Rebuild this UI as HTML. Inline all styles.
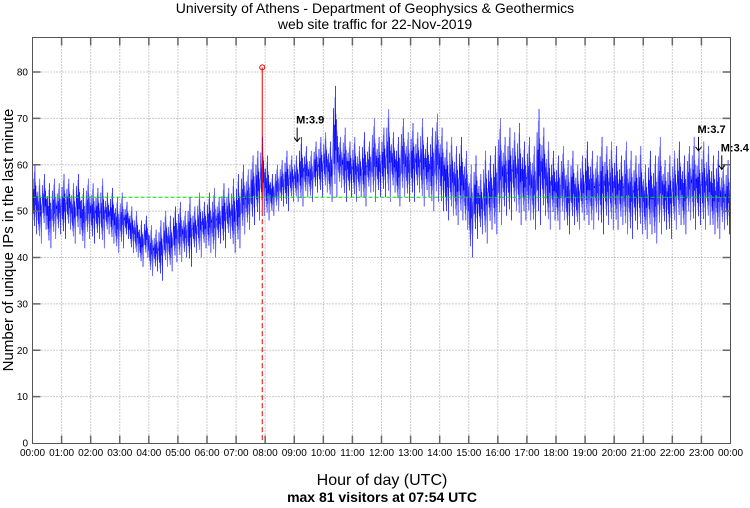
<!DOCTYPE html>
<html><head><meta charset="utf-8"><style>
html,body{margin:0;padding:0;background:#fff;}
svg{display:block;font-family:"Liberation Sans",sans-serif;}
</style></head><body>
<svg id="chart" width="750" height="508" viewBox="0 0 750 508">
<text x="375" y="13" text-anchor="middle" font-size="14">University of Athens - Department of Geophysics &amp; Geothermics</text>
<text x="375" y="29" text-anchor="middle" font-size="14">web site traffic for 22-Nov-2019</text>
<text transform="translate(13,240) rotate(-90)" text-anchor="middle" font-size="15">Number of unique IPs in the last minute</text>
<text x="382" y="485" text-anchor="middle" font-size="16">Hour of day (UTC)</text>
<text x="382" y="502" text-anchor="middle" font-size="14" font-weight="bold">max 81 visitors at 07:54 UTC</text>
<g id="grid"></g><g id="series"></g><g id="overlay"></g><g id="axes"></g>
</svg>
<script>
const hourLabels=["00:00","01:00","02:00","03:00","04:00","05:00","06:00","07:00","08:00","09:00","10:00","11:00","12:00","13:00","14:00","15:00","16:00","17:00","18:00","19:00","20:00","21:00","22:00","23:00","00:00"];
const yTicks=[0,10,20,30,40,50,60,70,80];
const binLo=[45,43,46,42,44,45, 44,46,43,45,42,44, 43,44,42,45,43,41, 42,44,41,40,38,40, 36,37,35,38,37,39, 39,40,38,41,40,42, 41,40,43,42,44,41, 42,45,46,47,48,49, 48,49,50,51,50,52, 52,51,53,52,54,53, 54,52,53,55,52,53, 52,53,51,54,52,53, 53,52,54,51,53,52, 52,54,51,53,50,52, 50,48,49,47,48,46, 40,44,45,43,46,45, 47,49,48,50,47,48, 48,46,47,49,46,48, 46,48,45,47,46,48, 47,46,48,45,47,46, 46,47,45,44,46,45, 44,45,43,45,46,44, 46,47,45,48,46,47, 46,47,45,44,46,45];
const binHi=[60,57,58,56,57,56, 58,57,56,58,55,57, 56,55,57,54,55,53, 54,52,51,50,48,49, 47,46,48,50,49,51, 52,50,53,51,54,52, 54,55,53,56,55,57, 58,60,59,62,63,66, 62,58,60,61,63,62, 62,66,64,63,65,66, 67,65,77,66,68,65, 66,64,67,65,70,66, 68,72,67,66,70,67, 69,67,70,66,68,71, 68,65,66,64,66,63, 60,62,58,63,62,64, 70,66,68,67,69,65, 66,64,72,68,65,63, 62,64,61,63,60,62, 65,63,62,66,64,65, 64,62,65,63,62,64, 60,63,62,66,61,62, 63,65,62,64,66,63, 65,64,62,63,60,61];
const meanValue=53;
const maxValue=81, maxHour=7+54/60;
const markers=[{label:"M:3.9",h:9.1,v:65},{label:"M:3.7",h:22.9,v:63},{label:"M:3.4",h:23.7,v:59}];

const L=32.5,R=730.5,T=37.5,B=443.5,V0=443,V80=72;
const xS=h=>L+(R-L)*h/24;
const yS=v=>V0-(V0-V80)*v/80;
const NS="http://www.w3.org/2000/svg";
function mk(tag,attrs,parent){const e=document.createElementNS(NS,tag);for(const k in attrs)e.setAttribute(k,attrs[k]);parent.appendChild(e);return e;}
const grid=document.getElementById('grid'),series=document.getElementById('series'),overlay=document.getElementById('overlay'),axes=document.getElementById('axes');
mk('rect',{x:L,y:T,width:R-L,height:B-T,fill:'#fff'},grid);
hourLabels.forEach((lab,i)=>{const x=xS(i);
 if(i>0&&i<24){const g=mk('line',{x1:x,x2:x,y1:T,y2:B,stroke:'#999','stroke-dasharray':'1,2'},grid);
 
 mk('line',{x1:x,x2:x,y1:B,y2:B-8,stroke:'#666','stroke-width':1.5},axes);
 mk('line',{x1:x,x2:x,y1:T,y2:T+8,stroke:'#666','stroke-width':1.5},axes);}
 const t=mk('text',{x:x,y:456,'text-anchor':'middle','font-size':10},axes);t.textContent=lab;
 });
yTicks.forEach(v=>{const y=yS(v);
 if(v>0){const g=mk('line',{x1:L,x2:R,y1:y,y2:y,stroke:'#999','stroke-dasharray':'1,2'},grid);
 
 mk('line',{x1:L,x2:L+8,y1:y,y2:y,stroke:'#666','stroke-width':1.5},axes);
 mk('line',{x1:R,x2:R-8,y1:y,y2:y,stroke:'#666','stroke-width':1.5},axes);}
 const t=mk('text',{x:28,y:y+3.5,'text-anchor':'end','font-size':10},axes);t.textContent=v;
 });
const frame=mk('rect',{x:L,y:T,width:R-L,height:B-T,fill:'none',stroke:'#555','stroke-width':1},axes);

// series
const pat=[0.5,0.8,0.3,0.65,0.12,1,0.42,0.7,0,0.55];
const pat2=[0.35,0.6,0.2,0.9,0.45,0.25,0.75,0.3,0.6,0.45];
let pts=[],pts2=[];
binLo.forEach((lo,b)=>{const hi=binHi[b];
 for(let m=0;m<10;m++){const h=(b*10+m)/60;
  pts.push(xS(h).toFixed(2)+','+yS(lo+(hi-lo)*pat[m]).toFixed(2));
  pts2.push(xS(h+1/120).toFixed(2)+','+yS(lo+(hi-lo)*pat2[m]).toFixed(2));}});
const s2=mk('polyline',{points:pts2.join(' '),fill:'none',stroke:'#a0a0ff','stroke-width':0.7},series);

const s1=mk('polyline',{points:pts.join(' '),fill:'none',stroke:'#0000ff','stroke-width':0.5},series);

// mean
const ml=mk('line',{x1:L,x2:R,y1:yS(meanValue),y2:yS(meanValue),stroke:'#00dd00','stroke-dasharray':'4,2'},overlay);

// max
const mx=xS(maxHour);
const vl=mk('line',{x1:mx,x2:mx,y1:yS(maxValue),y2:yS(50),stroke:'#ee0000'},overlay);

const vd=mk('line',{x1:mx,x2:mx,y1:yS(50),y2:B,stroke:'#ee0000','stroke-dasharray':'5,3'},overlay);

const mc=mk('circle',{cx:mx,cy:yS(maxValue),r:2.5,fill:'none',stroke:'#ee0000'},overlay);

markers.forEach(m=>{const x=xS(m.h),y=yS(m.v);
 const g=mk('g',{},overlay);
 
 mk('line',{x1:x,x2:x,y1:y-14,y2:y,stroke:'#000'},g);
 mk('path',{d:`M${x-3},${y-4} L${x},${y} L${x+3},${y-4}`,fill:'none',stroke:'#000'},g);
 const t=mk('text',{x:x-1,y:y-18,'font-size':11,'font-weight':'bold'},g);t.textContent=m.label;});
</script>
</body></html>
